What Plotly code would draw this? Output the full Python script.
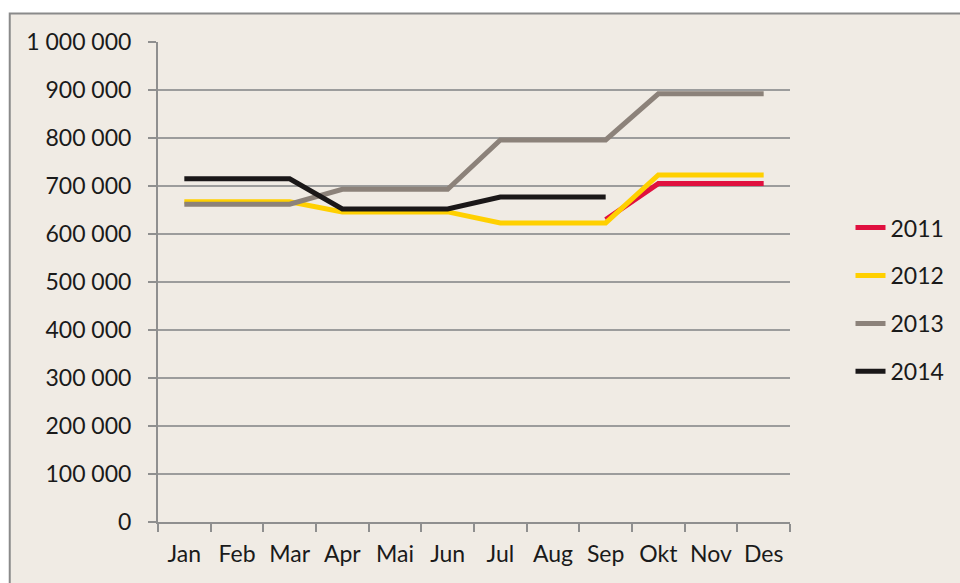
import plotly.graph_objects as go

months = ["Jan", "Feb", "Mar", "Apr", "Mai", "Jun", "Jul", "Aug", "Sep", "Okt", "Nov", "Des"]
y2011 = [None, None, None, None, None, None, None, None, 630000, 705000, 705000, 705000]
y2012 = [667000, 667000, 667000, 646000, 646000, 646000, 623000, 623000, 623000, 723000, 723000, 723000]
y2013 = [662000, 662000, 662000, 693000, 693000, 693000, 796000, 796000, 796000, 892000, 892000, 892000]
y2014 = [715000, 715000, 715000, 652000, 652000, 652000, 677000, 677000, 677000, None, None, None]

tick_vals = [0, 100000, 200000, 300000, 400000, 500000, 600000, 700000, 800000, 900000, 1000000]
tick_text = ["0", "100 000", "200 000", "300 000", "400 000", "500 000", "600 000",
             "700 000", "800 000", "900 000", "1 000 000"]

series = [("2011", y2011, "#e0103f"), ("2012", y2012, "#ffd000"),
          ("2013", y2013, "#8c827a"), ("2014", y2014, "#1a1718")]

FONT = "Lato"
fig = go.Figure()
for name, vals, col in series:
    fig.add_trace(go.Scatter(x=months, y=vals, name=name, mode="lines",
                             line=dict(color=col, width=5), legendgroup=name))

W, H = 960, 583
ml, mt = 158, 42
pw, ph = 633, 480
mr, mb = W - ml - pw, H - mt - ph

# chart area border (white page outside it)
fig.add_shape(type="rect", xref="paper", yref="paper", layer="below",
              x0=(-20 - ml) / pw, x1=(1000 - ml) / pw,
              y0=1 - (13.5 - mt) / ph, y1=1 - (-20 - mt) / ph,
              line=dict(width=0), fillcolor="white")
fig.add_shape(type="rect", xref="paper", yref="paper", layer="below",
              x0=(-20 - ml) / pw, x1=(9.5 - ml) / pw,
              y0=1 - (640 - mt) / ph, y1=1 - (-20 - mt) / ph,
              line=dict(width=0), fillcolor="white")
fig.add_shape(type="rect", xref="paper", yref="paper", layer="below",
              x0=(9.5 - ml) / pw, x1=(1000 - ml) / pw,
              y0=1 - (640 - mt) / ph, y1=1 - (13.5 - mt) / ph,
              line=dict(color="#8a8a8a", width=2), fillcolor="rgba(0,0,0,0)")

fig.update_layout(
    width=W, height=H,
    margin=dict(l=ml, r=mr, t=mt, b=mb),
    paper_bgcolor="#f0ebe4", plot_bgcolor="rgba(0,0,0,0)",
    font=dict(family=FONT, size=23, color="#1a1a1a"),
    showlegend=True,
    legend=dict(x=1.094, y=0.658, xanchor="left", yanchor="top",
                bgcolor="rgba(0,0,0,0)", tracegroupgap=15,
                font=dict(family=FONT, size=23, color="#1a1a1a")),
    xaxis=dict(type="category", categoryorder="array", categoryarray=months,
               showgrid=False, showline=True, linecolor="#8f8f8f", linewidth=2,
               ticks="outside", tickson="boundaries", ticklen=8, tickwidth=2,
               tickcolor="#8f8f8f", range=[-0.5, 11.5], zeroline=False,
               ticklabelstandoff=10),
    yaxis=dict(range=[0, 1000000], tickvals=tick_vals, ticktext=tick_text,
               showgrid=True, gridcolor="#9c9c9c", gridwidth=1.5,
               showline=True, linecolor="#8f8f8f", linewidth=2,
               ticks="outside", ticklen=8, tickwidth=2, tickcolor="#8f8f8f",
               zeroline=False, ticklabelstandoff=12),
)

fig.write_html("out.html", config={"displayModeBar": False},
               post_script="document.body.style.margin='0';document.body.style.overflow='hidden';")
